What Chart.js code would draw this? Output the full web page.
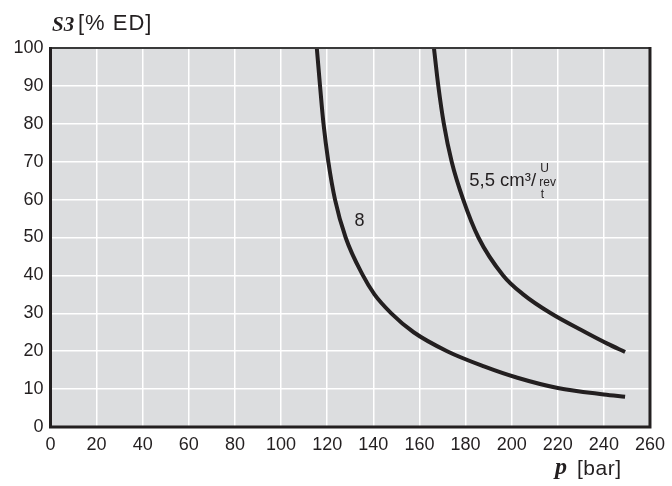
<!DOCTYPE html>
<html>
<head>
<meta charset="utf-8">
<script src="https://cdn.jsdelivr.net/npm/chart.js@4.4.1/dist/chart.umd.min.js"></script>
<style>
  html, body { margin: 0; padding: 0; background: #fff; }
  canvas { display: block; }
</style>
</head>
<body>
<canvas id="s3Chart" width="672" height="486"></canvas>
<script>
// 축 눈금
const xTicks = [0, 20, 40, 60, 80, 100, 120, 140, 160, 180, 200, 220, 240, 260];
const yTicks = [0, 10, 20, 30, 40, 50, 60, 70, 80, 90, 100];

// 곡선 "8"
const pressure8 = [115.5, 116.9, 118.4, 120.5, 123.4, 128.0, 135.5, 140.5, 147.8, 157.5, 172.0, 188.0, 202.5, 220.0, 240.0, 249.2];
const s3Curve8 = [100, 90, 80, 70, 60, 50, 40, 35, 30, 25, 20, 16, 13, 10.3, 8.6, 8.0];

// 곡선 "5,5 cm3/U"
const pressure55 = [166.3, 168.2, 170.6, 174.0, 179.0, 185.6, 196.3, 205.0, 217.0, 232.0, 241.5, 249.2];
const s3Curve55 = [100, 90, 80, 70, 60, 50, 40, 35, 30, 25, 22, 19.8];

const ink = "#231f20";
const sans = "'Liberation Sans', Arial, Helvetica, sans-serif";
const serif = "'Liberation Serif', 'Times New Roman', serif";

const toPoints = (xs, ys) => xs.map((x, i) => ({ x: x, y: ys[i] }));

// 플롯 배경 + 테두리
const plotFrame = {
  id: "plotFrame",
  beforeDraw(chart) {
    const { ctx, chartArea: a } = chart;
    ctx.save();
    ctx.fillStyle = "#dcdddf";
    ctx.fillRect(a.left, a.top, a.right - a.left, a.bottom - a.top);
    ctx.restore();
  },
  afterDatasetsDraw(chart) {
    const { ctx, chartArea: a } = chart;
    ctx.save();
    ctx.strokeStyle = "#3a3a3a";
    ctx.lineWidth = 2;
    ctx.beginPath();
    ctx.moveTo(a.left, a.top);
    ctx.lineTo(a.right, a.top);
    ctx.stroke();
    ctx.strokeStyle = ink;
    ctx.lineWidth = 3;
    ctx.beginPath();
    ctx.moveTo(a.right, a.top - 1);
    ctx.lineTo(a.right, a.bottom);
    ctx.lineTo(a.left, a.bottom);
    ctx.lineTo(a.left, a.top - 1);
    ctx.stroke();
    ctx.restore();
  },
};

// 축 제목, 곡선 라벨
const textLabels = {
  id: "textLabels",
  afterDraw(chart) {
    const { ctx } = chart;
    const xs = chart.scales.x;
    const ys = chart.scales.y;
    ctx.save();
    ctx.fillStyle = ink;
    ctx.textBaseline = "alphabetic";
    ctx.textAlign = "left";

    // y축 제목
    ctx.font = "bold italic 21px " + serif;
    ctx.fillText("S3", 52, 31);
    ctx.font = "22px " + sans;
    ctx.letterSpacing = "1px";
    ctx.fillText("[% ED]", 78, 30);

    // x축 제목
    ctx.letterSpacing = "0px";
    ctx.font = "bold italic 24px " + serif;
    ctx.fillText("p", 555, 474);
    ctx.font = "21px " + sans;
    ctx.letterSpacing = "0.5px";
    ctx.fillText("[bar]", 577, 475);
    ctx.letterSpacing = "0px";

    // 곡선 라벨 "8"
    ctx.font = "18px " + sans;
    ctx.textAlign = "center";
    ctx.fillText("8", xs.getPixelForValue(134), ys.getPixelForValue(53));

    // 곡선 라벨 "5,5 cm3/..."
    ctx.textAlign = "left";
    const lx = xs.getPixelForValue(181.6);
    const ly = ys.getPixelForValue(63.5);
    ctx.font = "18.5px " + sans;
    ctx.fillText("5,5 cm³/", lx, ly);
    ctx.font = "12px " + sans;
    ctx.fillText("U", lx + 71, ly - 14);
    ctx.fillText("rev", lx + 70, ly);
    ctx.fillText("t", lx + 71.5, ly + 12);
    ctx.restore();
  },
};

const s3Chart = new Chart(document.getElementById("s3Chart"), {
  type: "line",
  data: {
    datasets: [
      {
        label: "8",
        data: toPoints(pressure8, s3Curve8),
        borderColor: ink,
        borderWidth: 4,
        pointRadius: 0,
        cubicInterpolationMode: "monotone",
        fill: false,
      },
      {
        label: "5,5",
        data: toPoints(pressure55, s3Curve55),
        borderColor: ink,
        borderWidth: 4,
        pointRadius: 0,
        cubicInterpolationMode: "monotone",
        fill: false,
      },
    ],
  },
  options: {
    responsive: false,
    animation: false,
    layout: {
      padding: { top: 48, right: 18, bottom: 0, left: 0 },
    },
    plugins: {
      legend: { display: false },
      tooltip: { enabled: false },
    },
    scales: {
      x: {
        type: "linear",
        min: xTicks[0],
        max: xTicks[xTicks.length - 1],
        afterBuildTicks: (scale) => {
          scale.ticks = xTicks.map((v) => ({ value: v }));
        },
        afterFit: (scale) => {
          scale.height = 59;
        },
        border: { display: false },
        grid: { color: "#ffffff", lineWidth: 1.5, drawTicks: false },
        ticks: {
          padding: 7,
          color: ink,
          maxRotation: 0,
          autoSkip: false,
          font: { family: sans, size: 18 },
        },
      },
      y: {
        type: "linear",
        min: yTicks[0],
        max: yTicks[yTicks.length - 1],
        afterBuildTicks: (scale) => {
          scale.ticks = yTicks.map((v) => ({ value: v }));
        },
        afterFit: (scale) => {
          scale.width = 50.5;
        },
        border: { display: false },
        grid: { color: "#ffffff", lineWidth: 1.5, drawTicks: false },
        ticks: {
          padding: 7,
          color: ink,
          autoSkip: false,
          font: { family: sans, size: 18 },
        },
      },
    },
  },
  plugins: [plotFrame, textLabels],
});
</script>
</body>
</html>
